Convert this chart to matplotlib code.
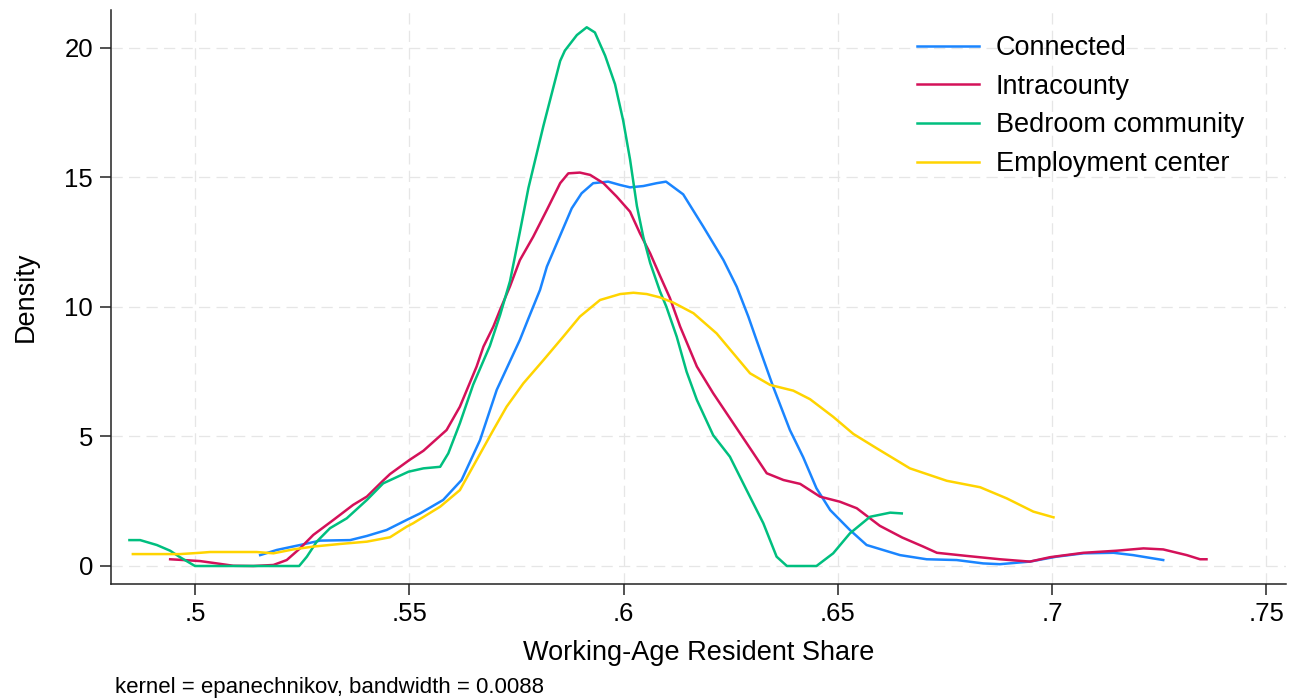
import matplotlib
matplotlib.use("Agg")
import matplotlib.pyplot as plt

plt.rcParams["font.family"] = ["Liberation Sans", "DejaVu Sans"]

# Kernel density estimates of the working-age resident share, by commuting type
connected_x = [0.5152, 0.5191, 0.5245, 0.5292, 0.5362, 0.5401, 0.5447, 0.5494, 0.5525,
               0.5579, 0.5622, 0.5665, 0.5704, 0.5758, 0.5778, 0.5805, 0.5821, 0.5879,
               0.5902, 0.5929, 0.5964, 0.5992, 0.6015, 0.6046, 0.6077, 0.6099, 0.6139,
               0.6186, 0.6233, 0.6264, 0.6291, 0.6310, 0.6349, 0.6388, 0.6419, 0.6450,
               0.6482, 0.6528, 0.6567, 0.6645, 0.6707, 0.6777, 0.6839, 0.6878, 0.6948,
               0.7010, 0.7073, 0.7143, 0.7189, 0.7259]
connected_y = [0.42, 0.62, 0.81, 0.98, 1.00, 1.16, 1.39, 1.78, 2.03,
               2.55, 3.32, 4.86, 6.80, 8.73, 9.56, 10.66, 11.56, 13.81,
               14.39, 14.78, 14.84, 14.71, 14.62, 14.67, 14.78, 14.84, 14.35,
               13.10, 11.81, 10.78, 9.63, 8.73, 6.92, 5.25, 4.20, 3.00,
               2.16, 1.39, 0.81, 0.42, 0.26, 0.23, 0.10, 0.07, 0.17,
               0.36, 0.49, 0.51, 0.42, 0.23]

intracounty_x = [0.4942, 0.4973, 0.5012, 0.5051, 0.5089, 0.5136, 0.5183, 0.5214, 0.5245,
                 0.5276, 0.5323, 0.5369, 0.5401, 0.5439, 0.5455, 0.5500, 0.5533, 0.5587,
                 0.5618, 0.5657, 0.5673, 0.5696, 0.5712, 0.5735, 0.5758, 0.5789, 0.5821,
                 0.5852, 0.5871, 0.5898, 0.5922, 0.5953, 0.5984, 0.6015, 0.6038, 0.6062,
                 0.6085, 0.6108, 0.6132, 0.6171, 0.6209, 0.6256, 0.6303, 0.6334, 0.6373,
                 0.6412, 0.6458, 0.6505, 0.6544, 0.6598, 0.6650, 0.6699, 0.6731, 0.6800,
                 0.6878, 0.6948, 0.6995, 0.7073, 0.7150, 0.7213, 0.7259, 0.7314, 0.7345,
                 0.7360]
intracounty_y = [0.26, 0.23, 0.19, 0.10, 0.01, 0.00, 0.04, 0.23, 0.68,
                 1.20, 1.78, 2.36, 2.68, 3.30, 3.55, 4.09, 4.45, 5.25,
                 6.15, 7.70, 8.47, 9.24, 9.90, 10.80, 11.81, 12.71, 13.75,
                 14.78, 15.16, 15.19, 15.10, 14.78, 14.26, 13.68, 12.85, 12.07,
                 11.20, 10.35, 9.24, 7.70, 6.67, 5.51, 4.35, 3.58, 3.32,
                 3.17, 2.68, 2.48, 2.23, 1.55, 1.10, 0.75, 0.51, 0.39,
                 0.26, 0.17, 0.34, 0.51, 0.59, 0.68, 0.64, 0.42, 0.26,
                 0.26]

bedroom_x = [0.4847, 0.4872, 0.4911, 0.4942, 0.4965, 0.5000, 0.5243, 0.5261, 0.5284,
             0.5315, 0.5354, 0.5401, 0.5439, 0.5498, 0.5533, 0.5572, 0.5591, 0.5618,
             0.5649, 0.5688, 0.5712, 0.5735, 0.5758, 0.5778, 0.5813, 0.5852, 0.5863,
             0.5891, 0.5914, 0.5933, 0.5957, 0.5980, 0.5999, 0.6015, 0.6031, 0.6046,
             0.6062, 0.6085, 0.6100, 0.6124, 0.6147, 0.6171, 0.6209, 0.6248, 0.6287,
             0.6326, 0.6357, 0.6381, 0.6450, 0.6489, 0.6528, 0.6575, 0.6622, 0.6649]
bedroom_y = [1.00, 1.00, 0.81, 0.59, 0.34, 0.00, 0.00, 0.36, 0.94,
             1.46, 1.84, 2.55, 3.19, 3.64, 3.77, 3.83, 4.35, 5.51,
             7.00, 8.50, 9.70, 11.00, 12.90, 14.60, 17.00, 19.50, 19.90,
             20.50, 20.80, 20.60, 19.70, 18.60, 17.20, 15.70, 13.90, 12.70,
             11.70, 10.60, 10.00, 8.85, 7.50, 6.41, 5.05, 4.22, 2.93,
             1.65, 0.36, 0.00, 0.00, 0.49, 1.26, 1.90, 2.06, 2.03]

employment_x = [0.4855, 0.4965, 0.5012, 0.5035, 0.5144, 0.5183, 0.5229, 0.5276, 0.5338,
                0.5401, 0.5455, 0.5494, 0.5509, 0.5572, 0.5618, 0.5657, 0.5696, 0.5727,
                0.5766, 0.5813, 0.5859, 0.5898, 0.5945, 0.5992, 0.6023, 0.6054, 0.6085,
                0.6116, 0.6163, 0.6217, 0.6256, 0.6295, 0.6342, 0.6396, 0.6435, 0.6489,
                0.6536, 0.6590, 0.6645, 0.6668, 0.6754, 0.6832, 0.6894, 0.6956, 0.7003]
employment_y = [0.46, 0.46, 0.51, 0.54, 0.54, 0.49, 0.64, 0.75, 0.85,
                0.94, 1.11, 1.52, 1.65, 2.29, 2.93, 4.09, 5.25, 6.15,
                7.05, 7.95, 8.85, 9.63, 10.27, 10.50, 10.55, 10.50, 10.37,
                10.17, 9.76, 8.98, 8.21, 7.44, 6.99, 6.77, 6.44, 5.76,
                5.10, 4.55, 4.00, 3.77, 3.29, 3.04, 2.61, 2.10, 1.88]

series_labels = ["Connected", "Intracounty", "Bedroom community", "Employment center"]
series_colors = ["#1a85ff", "#d41159", "#00bf7f", "#ffd400"]

x_ticks = [0.5, 0.55, 0.6, 0.65, 0.7, 0.75]
x_tick_labels = [".5", ".55", ".6", ".65", ".7", ".75"]
y_ticks = [0, 5, 10, 15, 20]

fig = plt.figure(figsize=(13.01, 7.0), dpi=100, facecolor="white")
ax = fig.add_axes([111 / 1301, 116 / 700, 1175 / 1301, 574 / 700])

all_x = [connected_x, intracounty_x, bedroom_x, employment_x]
all_y = [connected_y, intracounty_y, bedroom_y, employment_y]
for xs, ys, lab, col in zip(all_x, all_y, series_labels, series_colors):
    ax.plot(xs, ys, color=col, lw=1.8, label=lab, solid_joinstyle="round", zorder=3)

ax.set_xlim(0.4804, 0.75455)
ax.set_ylim(-0.695, 21.467)

ax.set_xticks(x_ticks)
ax.set_xticklabels(x_tick_labels)
ax.set_yticks(y_ticks)

ax.grid(True, color="#e6e6e6", lw=0.9, linestyle=(0, (9, 5)), zorder=0)

for side in ["top", "right"]:
    ax.spines[side].set_visible(False)
for side in ["left", "bottom"]:
    ax.spines[side].set_linewidth(1.1)
    ax.spines[side].set_color("#222222")

ax.tick_params(axis="both", direction="out", length=8, width=1.1,
               color="#222222", labelsize=18.5, pad=5)

ax.set_xlabel("Working-Age Resident Share", fontsize=19.5, labelpad=10)
ax.set_ylabel("Density", fontsize=19.5, labelpad=18)

ax.legend(loc="upper left", bbox_to_anchor=(917 / 1301, 1 - 35 / 700),
          bbox_transform=fig.transFigure, frameon=False, fontsize=19.5,
          handlelength=2.3, handletextpad=0.6, labelspacing=0.47,
          borderpad=0, borderaxespad=0)

fig.text(115 / 1301, 1 - 687 / 700, "kernel = epanechnikov, bandwidth = 0.0088",
         fontsize=16, ha="left", va="center")

fig.savefig("out.png", dpi=100, facecolor="white")
